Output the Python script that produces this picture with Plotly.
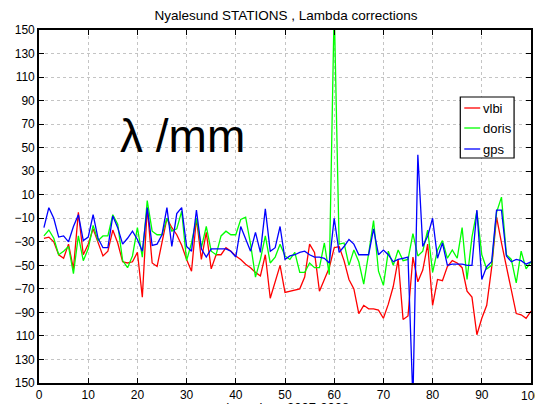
import plotly.graph_objects as go

days = list(range(1, 101))

vlbi = [-27, -26, -30, -41, -44, -32, -53, -5, -41, -32,
        -19, -30, -42, -38, -20, -31, -47, -48, -47, -39,
        -77, -1, -48, -51, -29, -10, -18, -24, -33, -45,
        -55, -10, -45, -22, -53, -41, -41, -35, -38, -42,
        -45, -49, -52, -56, -59, -41, -78, -63, -50, -73,
        -72, -71, -70, -60, -32, -39, -72, -62, -52, -35,
        -34, -46, -62, -70, -91, -84, -87, -87, -88, -95,
        -83, -68, -45, -96, -93, -43, -64, -54, -32, -84,
        -62, -63, -51, -46, -48, -52, -72, -77, -109, -95,
        -84, -52, -9, -31, -52, -71, -91, -92, -95, -89]

doris = [-25, -20, -27, -41, -38, -34, -57, -25, -46, -36,
         -16, -29, -25, -25, -7, -15, -46, -52, -42, -18,
         -43, 5, -21, -24, -24, -10, -21, -19, -4, -46,
         -31, -10, -35, -17, -38, -41, -25, -21, -24, -24,
         -11, -9, -32, -60, -45, -25, -48, -43, -32, -42,
         -45, -39, -56, -56, -48, -52, -52, -31, -58, 170,
         -32, -31, -50, -37, -47, -66, -40, -12, -55, -67,
         -38, -50, -37, -46, -45, -23, -42, -38, -20, -56,
         -37, -29, -44, -37, -44, -18, -62, -26, -4, -41,
         -53, -50, -5, 8, -41, -45, -65, -38, -53, -47]

gps = [-18, -1, -10, -26, -25, -30, -17, -7, -29, -26,
       -7, -27, -35, -35, -8, -18, -32, -27, -21, -28,
       -38, -1, -33, -32, -24, -1, -34, -6, -1, -34,
       -38, -3, -36, -43, -36, -36, -36, -36, -38, -43,
       -17, -27, -38, -22, -39, -2, -38, -35, -17, -45,
       -42, -41, -39, -38, -41, -43, -43, -44, -48, -10,
       -39, -34, -28, -32, -41, -41, -41, -19, -41, -37,
       -41, -47, -45, -44, -43, -165, 44, -34, -25, -10,
       -44, -31, -50, -49, -49, -49, -50, -50, -3, -62,
       -51, -47, -3, -3, -42, -47, -45, -46, -49, -47]

series_names = ["vlbi", "doris", "gps"]
series_colors = ["#ff0000", "#00ff00", "#0000ff"]

ytick_vals = list(range(150, -151, -20))
ytick_text = ["150", "130", "110", "90", "70", "50", "30", "10",
              "\u221210", "\u221230", "\u221250", "\u221270", "\u221290",
              "110", "130", "150"]
xtick_vals = list(range(0, 101, 10))
xtick_text = [str(v) for v in xtick_vals[:-1]] + [""]
last_xtick = str(xtick_vals[-1])

FONT = "Liberation Sans, Arial"

fig = go.Figure()
for name, vals, col in zip(series_names, [vlbi, doris, gps], series_colors):
    fig.add_trace(go.Scatter(x=days, y=vals, mode="lines", name=name,
                             line=dict(color=col, width=1.3), showlegend=False))

axis_common = dict(showline=True, linecolor="black", linewidth=1.6, mirror="ticks",
                   ticks="inside", ticklen=5, tickcolor="black", tickwidth=1,
                   showgrid=True, gridcolor="#c4c4c4", griddash="dot", gridwidth=1,
                   zeroline=False,
                   tickfont=dict(family=FONT, size=12, color="black"))

fig.update_xaxes(range=[0, 100], tickvals=xtick_vals, ticktext=xtick_text, **axis_common)
fig.update_yaxes(range=[-150, 150], tickvals=ytick_vals, ticktext=ytick_text, **axis_common)

# plot area in pixels: left 39, right 533, top 30, bottom 383
def px_x(p):
    return (p - 39) / 494.0

def px_y(p):
    return (383 - p) / 353.0

shapes = [dict(type="rect", xref="paper", yref="paper",
               x0=px_x(462), x1=px_x(516), y0=px_y(158), y1=px_y(97),
               line=dict(color="black", width=1.2), fillcolor="white", layer="above")]
annotations = []
entry_y = [108, 128, 149]
for name, col, ey in zip(series_names, series_colors, entry_y):
    shapes.append(dict(type="line", xref="paper", yref="paper",
                       x0=px_x(466), x1=px_x(482), y0=px_y(ey), y1=px_y(ey),
                       line=dict(color=col, width=1.3), layer="above"))
    annotations.append(dict(text=name, xref="paper", yref="paper",
                            x=px_x(483), y=px_y(ey), xanchor="left", yanchor="middle",
                            showarrow=False, font=dict(family=FONT, size=13, color="black")))

annotations += [
    dict(text=last_xtick, xref="x", yref="paper", x=xtick_vals[-1], y=px_y(387),
         xanchor="center", yanchor="top", showarrow=False,
         font=dict(family=FONT, size=12, color="black")),
    dict(text="\u03bb /mm", xref="paper", yref="paper", x=px_x(118), y=px_y(136),
         xanchor="left", yanchor="middle", showarrow=False,
         font=dict(family=FONT, size=46, color="black")),
    dict(text="days since 2007-2008", xref="paper", yref="paper", x=0.5, y=px_y(398),
         xanchor="center", yanchor="top", showarrow=False,
         font=dict(family=FONT, size=13, color="black")),
]

fig.update_layout(
    width=535, height=404,
    margin=dict(l=39, r=2, t=30, b=21),
    paper_bgcolor="white", plot_bgcolor="white",
    title=dict(text="Nyalesund STATIONS , Lambda corrections",
               x=(39 + 533) / 2 / 535, xanchor="center", y=1 - 15 / 404, yanchor="middle",
               font=dict(family=FONT, size=13.5, color="black")),
    showlegend=False,
    shapes=shapes,
    annotations=annotations,
)

fig.write_html("out.html")
